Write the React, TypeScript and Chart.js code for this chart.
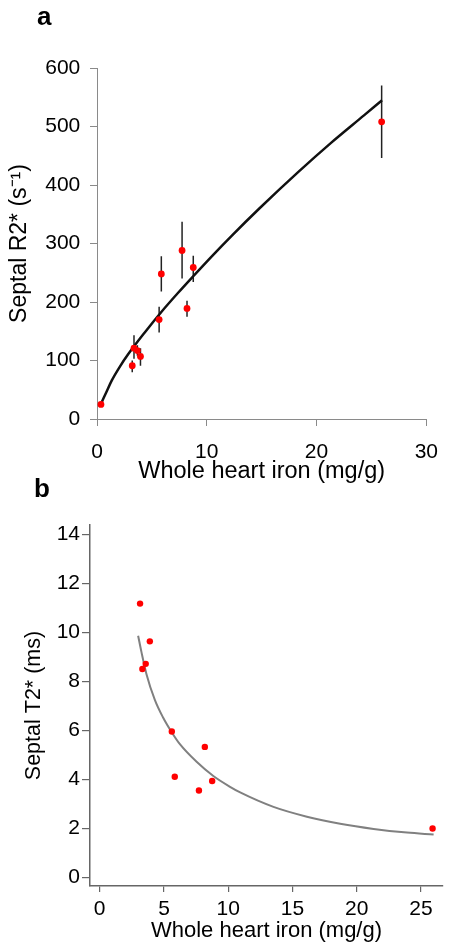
import React, { useEffect, useRef } from "react";
import { Chart, registerables } from "chart.js";

Chart.register(...registerables);

// ---------- Panel a data ----------
const ironA = [0.36, 3.21, 3.37, 3.68, 3.96, 5.66, 5.86, 7.75, 8.2, 8.77, 25.93];
const r2Star = [25, 91, 121, 117, 107, 170, 248, 288, 189, 259, 508];
const r2Low = [null, 80, 103, 108, 91, 148, 218, 240, 175, 234, 446];
const r2High = [null, 100, 143, 126, 121, 192, 278, 337, 202, 279, 570];
const fitAIron = [0.39, 0.9, 1.35, 2.1, 2.85, 4.35, 5.86, 7.35, 8.86, 10.5, 12.31, 14.74, 18.32, 21.32, 24.32, 25.97];
const fitAR2 = [27, 48, 66, 90, 111, 148, 183, 215, 246, 279, 314, 359, 422, 472, 519, 545];
const ticksAX = [0, 10, 20, 30];
const ticksAY = [0, 100, 200, 300, 400, 500, 600];

// ---------- Panel b data ----------
const ironB = [3.14, 3.32, 3.58, 3.9, 5.61, 5.84, 7.72, 8.18, 8.75, 25.9];
const t2Star = [11.18, 8.51, 8.72, 9.64, 5.96, 4.11, 3.55, 5.33, 3.94, 2.0];
const fitBIron = [2.99, 3.25, 3.64, 4.29, 4.94, 5.59, 6.24, 7.54, 8.84, 10.14, 10.93, 13.52, 16.12, 18.71, 21.31, 23.91, 25.98];
const fitBT2 = [9.87, 9.2, 8.3, 7.25, 6.52, 5.94, 5.44, 4.72, 4.14, 3.7, 3.47, 2.88, 2.48, 2.19, 1.98, 1.83, 1.75];
const ticksBX = [0, 5, 10, 15, 20, 25];
const ticksBY = [0, 2, 4, 6, 8, 10, 12, 14];

const FONT = "'Liberation Sans', Arial, sans-serif";

function PanelA() {
  const ref = useRef<HTMLCanvasElement | null>(null);
  useEffect(() => {
    if (!ref.current) return;
    const points = ironA.map((x, i) => ({ x, y: r2Star[i] }));
    const fit = fitAIron.map((x, i) => ({ x, y: fitAR2[i] }));
    const bars: any[] = [];
    ironA.forEach((x, i) => {
      if (r2Low[i] == null || r2High[i] == null) return;
      bars.push({
        data: [{ x, y: r2Low[i] }, { x, y: r2High[i] }],
        showLine: true,
        borderColor: "#222222",
        borderWidth: 1.5,
        pointRadius: 0,
        order: 2,
      });
    });
    const axisColor = "#8a8a8a";
    const chart = new Chart(ref.current, {
      type: "scatter",
      data: {
        datasets: [
          { data: points, backgroundColor: "#ff0000", borderWidth: 0, pointRadius: 3.4, order: 0 },
          {
            data: fit,
            showLine: true,
            borderColor: "#111111",
            borderWidth: 2.5,
            pointRadius: 0,
            cubicInterpolationMode: "monotone",
            order: 1,
          },
          ...bars,
        ],
      },
      options: {
        animation: false,
        responsive: false,
        maintainAspectRatio: false,
        devicePixelRatio: 1,
        layout: { padding: { top: 68, right: 22, left: 0, bottom: 0 } },
        plugins: { legend: { display: false }, tooltip: { enabled: false } },
        scales: {
          x: {
            type: "linear",
            min: 0,
            max: 30,
            afterBuildTicks: (s: any) => {
              s.ticks = ticksAX.map((v) => ({ value: v }));
            },
            afterFit: (s: any) => {
              s.height = 71;
            },
            grid: { drawOnChartArea: false, drawTicks: true, tickLength: 7, color: axisColor, lineWidth: 1 },
            border: { display: true, color: axisColor, width: 1 },
            ticks: { font: { family: FONT, size: 21 }, color: "#000", padding: 14, maxRotation: 0 },
            title: {
              display: true,
              text: "Whole heart iron (mg/g)",
              font: { family: FONT, size: 23.5 },
              color: "#000",
              padding: { top: 0, bottom: 4 },
            },
          },
          y: {
            type: "linear",
            min: 0,
            max: 600,
            afterBuildTicks: (s: any) => {
              s.ticks = ticksAY.map((v) => ({ value: v }));
            },
            afterFit: (s: any) => {
              s.width = 97;
            },
            grid: { drawOnChartArea: false, drawTicks: true, tickLength: 7, color: axisColor, lineWidth: 1 },
            border: { display: true, color: axisColor, width: 1 },
            ticks: { font: { family: FONT, size: 21 }, color: "#000", padding: 9.7 },
            title: {
              display: true,
              text: "Septal R2* (s\u207B\u00B9)",
              font: { family: FONT, size: 23 },
              color: "#000",
              padding: { top: 5.4, bottom: 0 },
            },
          },
        },
      },
    } as any);
    return () => chart.destroy();
  }, []);
  return <canvas ref={ref} width={452} height={490} style={{ position: "absolute", left: 0, top: 0 }} />;
}

function PanelB() {
  const ref = useRef<HTMLCanvasElement | null>(null);
  useEffect(() => {
    if (!ref.current) return;
    const points = ironB.map((x, i) => ({ x, y: t2Star[i] }));
    const fit = fitBIron.map((x, i) => ({ x, y: fitBT2[i] }));
    const axisColor = "#666666";
    const chart = new Chart(ref.current, {
      type: "scatter",
      data: {
        datasets: [
          { data: points, backgroundColor: "#ff0000", borderWidth: 0, pointRadius: 3.2, order: 0 },
          {
            data: fit,
            showLine: true,
            borderColor: "#808080",
            borderWidth: 2,
            pointRadius: 0,
            cubicInterpolationMode: "monotone",
            order: 1,
          },
        ],
      },
      options: {
        animation: false,
        responsive: false,
        maintainAspectRatio: false,
        devicePixelRatio: 1,
        layout: { padding: { top: 35, right: 9, left: 0, bottom: 0 } },
        plugins: { legend: { display: false }, tooltip: { enabled: false } },
        scales: {
          x: {
            type: "linear",
            min: -0.755,
            max: 26.71,
            afterBuildTicks: (s: any) => {
              s.ticks = ticksBX.map((v) => ({ value: v }));
            },
            afterFit: (s: any) => {
              s.height = 65;
            },
            grid: { drawOnChartArea: false, drawTicks: true, tickLength: 6, color: axisColor, lineWidth: 1.2 },
            border: { display: true, color: axisColor, width: 1.5 },
            ticks: { font: { family: FONT, size: 21 }, color: "#000", padding: 5, maxRotation: 0 },
            title: {
              display: true,
              text: "Whole heart iron (mg/g)",
              font: { family: FONT, size: 22 },
              color: "#000",
              padding: { top: 0, bottom: 6.5 },
            },
          },
          y: {
            type: "linear",
            min: -0.35,
            max: 14.39,
            afterBuildTicks: (s: any) => {
              s.ticks = ticksBY.map((v) => ({ value: v }));
            },
            afterFit: (s: any) => {
              s.width = 90;
            },
            grid: { drawOnChartArea: false, drawTicks: true, tickLength: 8, color: axisColor, lineWidth: 1.2 },
            border: { display: true, color: axisColor, width: 1.5 },
            ticks: { font: { family: FONT, size: 21 }, color: "#000", padding: 2 },
            title: {
              display: true,
              text: "Septal T2* (ms)",
              font: { family: FONT, size: 21.5 },
              color: "#000",
              padding: { top: 21, bottom: 0 },
            },
          },
        },
      },
    } as any);
    return () => chart.destroy();
  }, []);
  return <canvas ref={ref} width={452} height={461} style={{ position: "absolute", left: 0, top: 490 }} />;
}

const panelLabel: React.CSSProperties = {
  position: "absolute",
  fontFamily: FONT,
  fontWeight: "bold",
  fontSize: 26,
  lineHeight: "26px",
  color: "#000",
};

export default function App() {
  return (
    <div style={{ position: "absolute", left: 0, top: 0, width: 452, height: 951, background: "#fff", overflow: "hidden" }}>
      <PanelA />
      <PanelB />
      <div style={{ ...panelLabel, left: 37, top: 3 }}>a</div>
      <div style={{ ...panelLabel, left: 34, top: 475 }}>b</div>
    </div>
  );
}
